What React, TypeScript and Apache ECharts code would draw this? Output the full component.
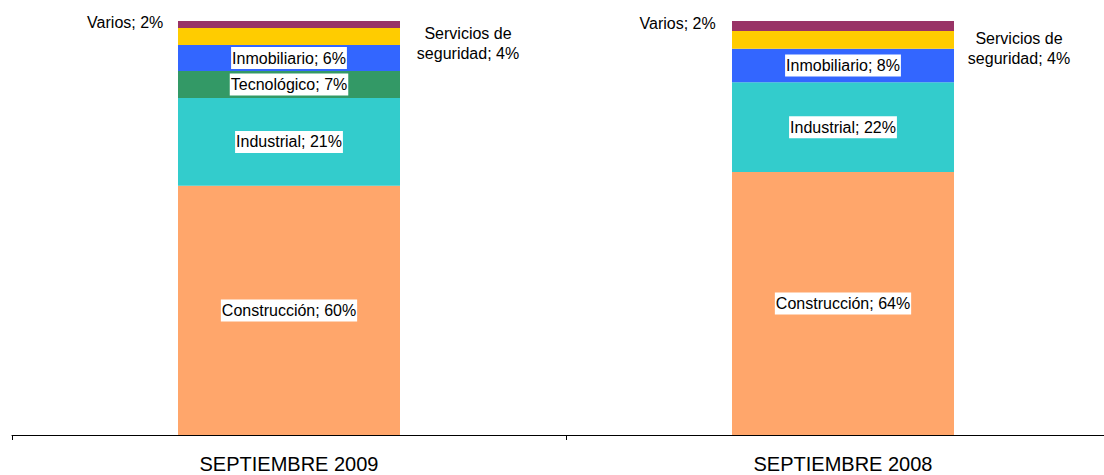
import React, { useEffect, useRef } from "react";
import * as echarts from "echarts";

const categories = ["SEPTIEMBRE 2009", "SEPTIEMBRE 2008"];
const sectorNames = [
  "Construcción",
  "Industrial",
  "Tecnológico",
  "Inmobiliario",
  "Servicios de seguridad",
  "Varios",
];
const construccion = [60.2, 63.5];
const industrial = [21.2, 21.7];
const tecnologico: (number | null)[] = [6.5, null];
const inmobiliario = [6.3, 8.1];
const servicios = [4.1, 4.3];
const varios = [1.7, 2.4];
const colors = ["#FFA66B", "#33CCCC", "#339966", "#3366FF", "#FFCC00", "#993366"];

const FONT = "'Liberation Sans', Arial, sans-serif";

export default function App() {
  const ref = useRef<HTMLDivElement>(null);
  useEffect(() => {
    if (!ref.current) return;
    const chart = echarts.init(ref.current, undefined, { renderer: "svg" });
    const values = [construccion, industrial, tecnologico, inmobiliario, servicios, varios];

    const insideLabel = {
      show: true,
      position: "inside",
      color: "#000",
      fontFamily: FONT,
      fontSize: 16,
      backgroundColor: "#fff",
      padding: [2, 1, 1, 1],
      lineHeight: 19,
    };

    const servPos = [
      [290, 15.3],
      [287, 17.5],
    ];
    const variosPos = [
      [-13.7, 1],
      [-15.3, 2.6],
    ];

    const series = sectorNames.map((name, si) => {
      const data = values[si].map((v, ci) => {
        if (v === null) return { value: "-" as any, label: { show: false } };
        if (si === 4) {
          return {
            value: v,
            label: {
              show: true,
              position: servPos[ci],
              align: "center",
              verticalAlign: "middle",
              color: "#000",
              fontFamily: FONT,
              fontSize: 16,
              lineHeight: 20,
              formatter: () => `Servicios de\nseguridad; ${Math.round(v)}%`,
            },
          };
        }
        if (si === 5) {
          return {
            value: v,
            label: {
              show: true,
              position: variosPos[ci],
              align: "right",
              verticalAlign: "middle",
              color: "#000",
              fontFamily: FONT,
              fontSize: 16,
              formatter: () => `${name}; ${Math.round(v)}%`,
            },
          };
        }
        return { value: v };
      });
      return {
        name,
        type: "bar",
        stack: "total",
        barWidth: 222,
        itemStyle: { color: colors[si] },
        label: {
          ...insideLabel,
          formatter: (p: any) => `${name}; ${Math.round(p.value)}%`,
        },
        data,
      };
    });

    chart.setOption({
      animation: false,
      backgroundColor: "#fff",
      grid: { left: 12, right: 0, top: 21, bottom: 40, containLabel: false },
      xAxis: {
        type: "category",
        data: categories,
        axisLine: { show: true, lineStyle: { color: "#000", width: 1 } },
        axisTick: { show: true, length: 5, lineStyle: { color: "#000" } },
        axisLabel: {
          color: "#000",
          fontFamily: FONT,
          fontSize: 20,
          margin: 19,
        },
      },
      yAxis: {
        type: "value",
        min: 0,
        max: 100,
        show: false,
        splitLine: { show: false },
      },
      series,
    });
    return () => chart.dispose();
  }, []);
  return (
    <div
      style={{
        position: "fixed",
        left: 0,
        top: 0,
        width: 1104,
        height: 475,
        overflow: "hidden",
        background: "#fff",
      }}
    >
      <div ref={ref} style={{ width: 1120, height: 475 }} />
    </div>
  );
}
